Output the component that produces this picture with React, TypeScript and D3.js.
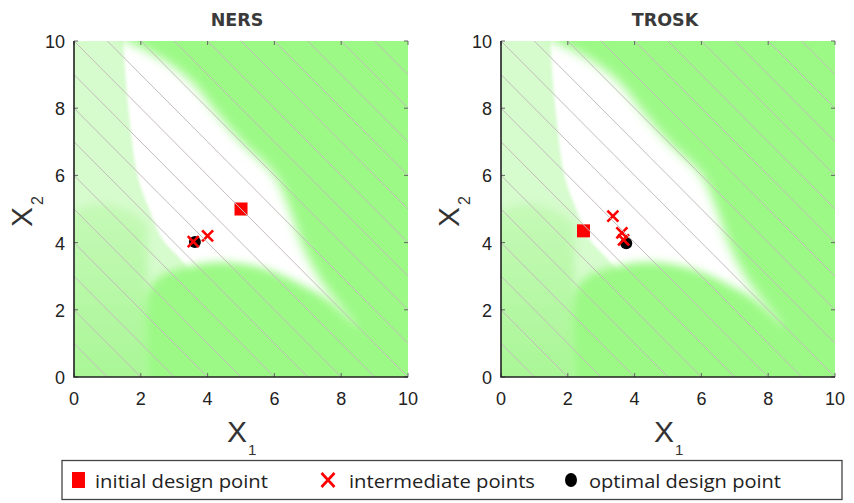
import { useEffect, useRef } from "react";
import * as d3 from "d3";

type Pt = [number, number];

const axisTicks = [0, 2, 4, 6, 8, 10];
// objective contours x1 + x2 = c
const contourLevels = [1, 2, 3, 4, 5, 6, 7, 8, 9, 10, 11, 12, 13, 14, 15, 16, 17, 18, 19];

// constraint boundaries (design space coords)
const leftBoundary: Pt[] = [[1.47, 10.6], [1.5, 9.6], [1.63, 8], [1.9, 6], [2.25, 5], [2.65, 4.1], [3.2, 3.5], [3.5, 3.1], [3.6, 2.5]];
const lowerLeftBoundary: Pt[] = [[-0.6, 4.8], [0, 4.95], [0.6, 5.15], [1.2, 5.1], [1.8, 4.85], [2.2, 4.5]];
const lowerBoundary: Pt[] = [[2.2, -1], [2.2, 2.5], [2.6, 3.0], [3.3, 3.25], [4.0, 3.4], [4.8, 3.4], [5.6, 3.25], [6.3, 3.0], [7.0, 2.65], [7.6, 2.3], [8.5, 1.5]];
const upperRightBoundary: Pt[] = [[1.45, 10.05], [2.0, 9.8], [2.8, 9.35], [3.6, 8.7], [4.15, 8.0], [5.0, 7.0], [6.0, 6.0], [6.45, 5.0], [6.8, 4.0], [7.3, 3.0], [7.75, 2.35], [8.3, 1.6]];

const nersInitial: Pt[] = [[5.0, 5.0]];
const nersIntermediate: Pt[] = [[4.0, 4.2], [3.57, 4.03]];
const nersOptimal: Pt[] = [[3.62, 4.02]];

const troskInitial: Pt[] = [[2.47, 4.35]];
const troskIntermediate: Pt[] = [[3.35, 4.79], [3.62, 4.29], [3.67, 4.08]];
const troskOptimal: Pt[] = [[3.75, 3.98]];

const panels = [
  { title: "NERS", left: 74, titleX: 237, initial: nersInitial, intermediate: nersIntermediate, optimal: nersOptimal },
  { title: "TROSK", left: 501, titleX: 665, initial: troskInitial, intermediate: troskIntermediate, optimal: troskOptimal },
];

const legendLabels = ["initial design point", "intermediate points", "optimal design point"];

const App = () => {
  const svgRef = useRef<SVGSVGElement>(null);
  const width = 854;
  const height = 503;
  const top = 41;
  const bottom = 377;
  const plotW = 334;

  useEffect(() => {
    const svg = d3.select(svgRef.current);
    svg.selectAll("*").remove();

    const defs = svg.append("defs");
    const blurs: [string, number][] = [["blurS", 1.5], ["blurM", 4], ["blurL", 5.5]];
    blurs.forEach(([id, s]) => {
      defs.append("filter")
        .attr("id", id)
        .attr("x", "-20%").attr("y", "-20%")
        .attr("width", "140%").attr("height", "140%")
        .append("feGaussianBlur")
        .attr("stdDeviation", s);
    });

    // lower-left region fades from pale at the top to green at the bottom
    const grad = defs.append("linearGradient")
      .attr("id", "llGrad")
      .attr("gradientUnits", "userSpaceOnUse")
      .attr("x1", 0).attr("y1", 200).attr("x2", 0).attr("y2", 377);
    grad.append("stop").attr("offset", 0).attr("stop-color", "#c6f9b8");
    grad.append("stop").attr("offset", 1).attr("stop-color", "#aaf797");

    panels.forEach((p, i) => {
      const x = d3.scaleLinear().domain([0, 10]).range([p.left, p.left + plotW]);
      const y = d3.scaleLinear().domain([0, 10]).range([bottom, top]);

      defs.append("clipPath").attr("id", `clip${i}`)
        .append("rect")
        .attr("x", x(0)).attr("y", y(10))
        .attr("width", x(10) - x(0)).attr("height", y(0) - y(10));

      const g = svg.append("g");
      const area = g.append("g").attr("clip-path", `url(#clip${i})`);

      area.append("rect")
        .attr("x", x(0)).attr("y", y(10))
        .attr("width", x(10) - x(0)).attr("height", y(0) - y(10))
        .attr("fill", "#ffffff");

      const line = d3.line<Pt>().x(d => x(d[0])).y(d => y(d[1])).curve(d3.curveCatmullRom);
      const shape = (edge: Pt[], corners: Pt[]) =>
        line(edge) + corners.map(c => `L${x(c[0])},${y(c[1])}`).join("") + "Z";

      area.append("path")
        .attr("d", shape(leftBoundary, [[3.6, -1], [-1, -1], [-1, 11]]))
        .attr("fill", "#d6fbcd")
        .attr("filter", "url(#blurS)");

      area.append("path")
        .attr("d", shape(lowerLeftBoundary, [[2.2, -1], [-1, -1]]))
        .attr("fill", "url(#llGrad)")
        .attr("filter", "url(#blurM)");

      area.append("path")
        .attr("d", shape(lowerBoundary, [[11, 1.2], [11, -1]]))
        .attr("fill", "#9cf986")
        .attr("filter", "url(#blurM)");

      area.append("path")
        .attr("d", shape(upperRightBoundary, [[8.8, -1], [11, -1], [11, 11], [1.45, 11]]))
        .attr("fill", "#9cf986")
        .attr("filter", "url(#blurL)");

      // markers
      const cross = "M-5.5,-5.5L5.5,5.5M-5.5,5.5L5.5,-5.5";
      area.selectAll(".opt")
        .data(p.optimal)
        .join("circle")
        .attr("cx", d => x(d[0])).attr("cy", d => y(d[1]))
        .attr("r", 6)
        .attr("fill", "#000000");

      area.selectAll(".mid")
        .data(p.intermediate)
        .join("path")
        .attr("transform", d => `translate(${x(d[0])},${y(d[1])})`)
        .attr("d", cross)
        .attr("stroke", "#ff0000")
        .attr("stroke-width", 2.6)
        .attr("fill", "none");

      area.selectAll(".init")
        .data(p.initial)
        .join("rect")
        .attr("x", d => x(d[0]) - 6.5).attr("y", d => y(d[1]) - 6.5)
        .attr("width", 13).attr("height", 13)
        .attr("fill", "#ff0000");

      // contour lines of the objective
      area.append("g")
        .selectAll("line")
        .data(contourLevels)
        .join("line")
        .attr("x1", c => x(Math.max(0, c - 10)))
        .attr("y1", c => y(c - Math.max(0, c - 10)))
        .attr("x2", c => x(Math.min(10, c)))
        .attr("y2", c => y(c - Math.min(10, c)))
        .attr("stroke", "#c4bcbc")
        .attr("stroke-width", 1);

      // ticks, inward on all four sides
      const tickG = g.append("g").attr("stroke", "#666").attr("stroke-width", 1);
      axisTicks.forEach(t => {
        tickG.append("line").attr("x1", x(t)).attr("x2", x(t)).attr("y1", y(0)).attr("y2", y(0) - 4);
        tickG.append("line").attr("x1", x(t)).attr("x2", x(t)).attr("y1", y(10)).attr("y2", y(10) + 4);
        tickG.append("line").attr("y1", y(t)).attr("y2", y(t)).attr("x1", x(0)).attr("x2", x(0) + 4);
        tickG.append("line").attr("y1", y(t)).attr("y2", y(t)).attr("x1", x(10)).attr("x2", x(10) - 4);
      });

      g.append("path")
        .attr("d", `M${x(0)},${y(10)}V${y(0)}H${x(10)}`)
        .attr("fill", "none")
        .attr("stroke", "#222")
        .attr("stroke-width", 1.6);

      const font = "'Liberation Sans', Arial, sans-serif";
      g.append("g")
        .selectAll("text")
        .data(axisTicks)
        .join("text")
        .attr("x", d => x(d))
        .attr("y", bottom + 28)
        .attr("text-anchor", "middle")
        .attr("font-family", font)
        .attr("font-size", 18)
        .attr("fill", "#222")
        .text(d => d);

      g.append("g")
        .selectAll("text")
        .data(axisTicks)
        .join("text")
        .attr("x", x(0) - 9)
        .attr("y", d => y(d) + 7)
        .attr("text-anchor", "end")
        .attr("font-family", font)
        .attr("font-size", 18)
        .attr("fill", "#222")
        .text(d => d);

      g.append("text")
        .attr("x", p.titleX)
        .attr("y", 26)
        .attr("text-anchor", "middle")
        .attr("font-family", "'DejaVu Sans', sans-serif")
        .attr("font-weight", "bold")
        .attr("font-size", 17.5)
        .attr("fill", "#3a3a3a")
        .text(p.title);

      // X1 label
      g.append("text")
        .attr("x", x(0) + 153).attr("y", 442)
        .attr("font-family", font).attr("font-size", 30).attr("fill", "#333")
        .text("X");
      g.append("text")
        .attr("x", x(0) + 174).attr("y", 455)
        .attr("font-family", font).attr("font-size", 15).attr("fill", "#333")
        .text("1");

      // X2 label
      const yl = g.append("g").attr("transform", `translate(${x(0) - 42},227) rotate(-90)`);
      yl.append("text")
        .attr("font-family", font).attr("font-size", 30).attr("fill", "#333")
        .text("X");
      yl.append("text")
        .attr("x", 22).attr("y", 11)
        .attr("font-family", font).attr("font-size", 16).attr("fill", "#333")
        .text("2");
    });

    // legend
    const lg = svg.append("g");
    lg.append("rect")
      .attr("x", 62).attr("y", 460.5)
      .attr("width", 780).attr("height", 39)
      .attr("fill", "#fff")
      .attr("stroke", "#444")
      .attr("stroke-width", 1.3);

    lg.append("rect")
      .attr("x", 72).attr("y", 472)
      .attr("width", 13).attr("height", 16)
      .attr("fill", "#ff0000");
    lg.append("path")
      .attr("transform", "translate(328,480)")
      .attr("d", "M-6.5,-7L6.5,7M-6.5,7L6.5,-7")
      .attr("stroke", "#ff0000")
      .attr("stroke-width", 2.6);
    lg.append("ellipse")
      .attr("cx", 571).attr("cy", 480)
      .attr("rx", 6).attr("ry", 7)
      .attr("fill", "#000");

    const legendX = [95, 349, 589];
    const legendW = [173, 186, 192];
    lg.selectAll(".lt")
      .data(legendLabels)
      .join("text")
      .attr("x", (_, i) => legendX[i])
      .attr("y", 488)
      .attr("textLength", (_, i) => legendW[i])
      .attr("lengthAdjust", "spacingAndGlyphs")
      .attr("font-family", "'Open Sans', 'Noto Sans', sans-serif")
      .attr("font-size", 19)
      .attr("fill", "#222")
      .text(d => d);
  }, []);

  return (
    <svg
      ref={svgRef}
      width={width}
      height={height}
      style={{ position: "absolute", left: 0, top: 0, background: "#fff" }}
    ></svg>
  );
};

export default App;
